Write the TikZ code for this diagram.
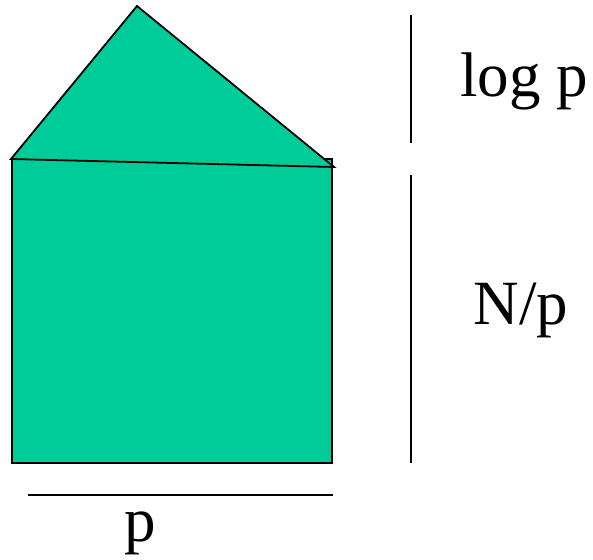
\documentclass[tikz,border=0pt]{standalone}
\usepackage{fontspec}
\setmainfont{Liberation Serif}
\definecolor{housegreen}{HTML}{00CC99}
\begin{document}
\begin{tikzpicture}[x=1pt,y=-1pt,
  housepart/.style={fill=housegreen,draw=black,line width=1.8pt,line join=miter},
  rule/.style={draw=black,line width=1.8pt},
  lbl/.style={font=\fontsize{63}{70}\selectfont,inner sep=0pt,anchor=base}]
\useasboundingbox (0,0) rectangle (593,559);
% body
\path[housepart] (12,159) rectangle (332,463);
% roof
\path[housepart] (137,6) -- (334,167) -- (11,159) -- cycle;
% measurement rules
\coordinate (r1a) at (411,15);
\coordinate (r1b) at (411,143);
\coordinate (r2a) at (411,175);
\coordinate (r2b) at (411,463);
\coordinate (r3a) at (28,495);
\coordinate (r3b) at (333,495);
\draw[rule] (r1a) -- (r1b);
\draw[rule] (r2a) -- (r2b);
\draw[rule] (r3a) -- (r3b);
% labels
\node[lbl] (logp) at (524,96) {log p};
\node[lbl] (np) at (521,324) {N/p};
\node[lbl] (p) at (140,541) {p};
\end{tikzpicture}
\end{document}
